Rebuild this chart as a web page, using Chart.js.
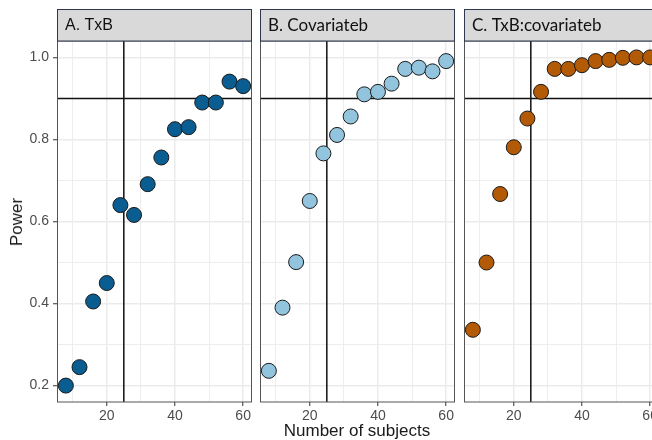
<!DOCTYPE html>
<html>
<head>
<meta charset="utf-8">
<script src="https://cdn.jsdelivr.net/npm/chart.js@4/dist/chart.umd.min.js"></script>
<style>
    body { margin: 0; background: #fff; overflow: hidden; }
    #wrap { position: relative; width: 652px; height: 440px; overflow: hidden; }
    #wrap canvas { position: absolute; top: 0; }
    .axis-title { position: absolute; font-family: "Liberation Sans", Arial, sans-serif; font-size: 17px; color: #1a1a1a; white-space: nowrap; }
    #y-title { left: 17px; top: 222px; transform: translate(-50%, -50%) rotate(-90deg); }
    #x-title { left: 357px; top: 431px; transform: translate(-50%, -50%); }
</style>
</head>
<body>
<div id="wrap">
    <canvas id="panelA" width="256" height="440" style="left:0px"></canvas>
    <canvas id="panelB" width="203" height="440" style="left:256px"></canvas>
    <canvas id="panelC" width="203" height="440" style="left:460px"></canvas>
    <div class="axis-title" id="y-title">Power</div>
    <div class="axis-title" id="x-title">Number of subjects</div>
</div>
<script>
// broj ispitanika (x) i snaga (y) za svaki panel
const brojIspitanika = [8, 12, 16, 20, 24, 28, 32, 36, 40, 44, 48, 52, 56, 60];
const snagaTxB       = [0.200, 0.245, 0.405, 0.450, 0.640, 0.616, 0.691, 0.756, 0.825, 0.830, 0.890, 0.890, 0.941, 0.930];
const snagaCovariate = [0.236, 0.390, 0.501, 0.650, 0.766, 0.811, 0.856, 0.910, 0.916, 0.936, 0.972, 0.975, 0.966, 0.991];
const snagaInterakc  = [0.336, 0.500, 0.667, 0.781, 0.851, 0.916, 0.972, 0.972, 0.981, 0.991, 0.994, 0.999, 1.000, 1.000];

const naslovi = ['A. TxB', 'B. Covariateb', 'C. TxB:covariateb'];
const xTickovi = [10, 20, 30, 40, 50, 60];
const yTickovi = [0.2, 0.3, 0.4, 0.5, 0.6, 0.7, 0.8, 0.9, 1.0];

const ciljN = 25;      // vertikalna linija
const ciljSnaga = 0.9; // horizontalna linija

function isMajorX(v) { return v % 20 === 0; }
function isMajorY(v) { return Math.round(v * 10) % 2 === 0; }

const panelDecor = {
    id: 'panelDecor',
    beforeDatasetsDraw(chart) {
        const {ctx, chartArea: a, scales} = chart;
        const px = scales.x.getPixelForValue(ciljN);
        const py = scales.y.getPixelForValue(ciljSnaga);
        ctx.save();
        ctx.beginPath();
        ctx.rect(a.left, a.top, a.right - a.left, a.bottom - a.top);
        ctx.clip();
        ctx.strokeStyle = '#111';
        ctx.lineWidth = 1.5;
        ctx.beginPath();
        ctx.moveTo(px, a.top); ctx.lineTo(px, a.bottom);
        ctx.moveTo(a.left, py); ctx.lineTo(a.right, py);
        ctx.stroke();
        ctx.restore();
    },
    afterDraw(chart, args, opts) {
        const {ctx, chartArea: a} = chart;
        ctx.save();
        // okvir panela
        ctx.strokeStyle = '#555';
        ctx.lineWidth = 1;
        ctx.strokeRect(a.left + 0.5, a.top, a.right - a.left - 1, a.bottom - a.top);
        // traka s naslovom
        ctx.fillStyle = '#d9d9d9';
        ctx.fillRect(a.left, 9, a.right - a.left, a.top - 9);
        ctx.strokeStyle = '#2e3650';
        ctx.strokeRect(a.left + 0.5, 9.5, a.right - a.left - 1, a.top - 9.5);
        ctx.fillStyle = '#111';
        ctx.font = opts.font;
        ctx.textBaseline = 'middle';
        ctx.fillText(opts.title, a.left + 8, 26);
        ctx.restore();
    }
};

function crtajPanel(id, naslov, podaci, boja, saOsiY, padL, padR, fontNaslova) {
    const tocke = brojIspitanika.map((n, i) => ({x: n, y: podaci[i]}));
    return new Chart(document.getElementById(id), {
        type: 'scatter',
        data: {
            datasets: [{
                data: tocke,
                backgroundColor: boja,
                borderColor: '#1a1a1a',
                borderWidth: 1,
                pointRadius: 7.5,
                pointHoverRadius: 7.5
            }]
        },
        options: {
            responsive: false,
            animation: false,
            devicePixelRatio: 1,
            layout: { autoPadding: false, padding: { top: 41, bottom: 0, left: padL, right: padR } },
            plugins: {
                legend: { display: false },
                tooltip: { enabled: false },
                panelDecor: { title: naslov, font: fontNaslova }
            },
            scales: {
                x: {
                    type: 'linear',
                    min: 5.4, max: 62.6,
                    afterBuildTicks: s => { s.ticks = xTickovi.map(v => ({value: v})); },
                    afterFit: s => { s.height = 38; s.paddingLeft = 0; s.paddingRight = 0; },
                    border: { display: false },
                    grid: {
                        color: '#ebebeb',
                        lineWidth: c => isMajorX(c.tick.value) ? 1.5 : 0.9,
                        tickColor: c => isMajorX(c.tick.value) ? '#333' : 'rgba(0,0,0,0)',
                        tickLength: 4,
                        tickWidth: 1
                    },
                    ticks: {
                        autoSkip: false, maxRotation: 0, padding: 2,
                        color: '#4d4d4d',
                        font: { family: 'Liberation Sans', size: 14 },
                        callback: v => isMajorX(v) ? String(v) : ''
                    }
                },
                y: {
                    type: 'linear',
                    min: 0.16, max: 1.04,
                    afterBuildTicks: s => { s.ticks = yTickovi.map(v => ({value: v})); },
                    afterFit: s => { s.width = saOsiY ? 57 : 0; s.paddingTop = 0; s.paddingBottom = 0; },
                    border: { display: false },
                    grid: {
                        color: '#ebebeb',
                        lineWidth: c => isMajorY(c.tick.value) ? 1.5 : 0.9,
                        drawTicks: saOsiY,
                        tickColor: c => isMajorY(c.tick.value) ? '#333' : 'rgba(0,0,0,0)',
                        tickLength: 4,
                        tickWidth: 1
                    },
                    ticks: {
                        display: saOsiY,
                        autoSkip: false, padding: 4,
                        color: '#4d4d4d',
                        font: { family: 'Liberation Sans', size: 14 },
                        callback: v => isMajorY(v) ? v.toFixed(1) : ''
                    }
                }
            }
        },
        plugins: [panelDecor]
    });
}

crtajPanel('panelA', naslovi[0], snagaTxB, '#0a5d91', true, 0, 4, '16px "Liberation Sans"');
crtajPanel('panelB', naslovi[1], snagaCovariate, '#93c4de', false, 4, 4, '17px Lato');
crtajPanel('panelC', naslovi[2], snagaInterakc, '#b35a06', false, 4, 4, '17px Lato');
</script>
</body>
</html>
